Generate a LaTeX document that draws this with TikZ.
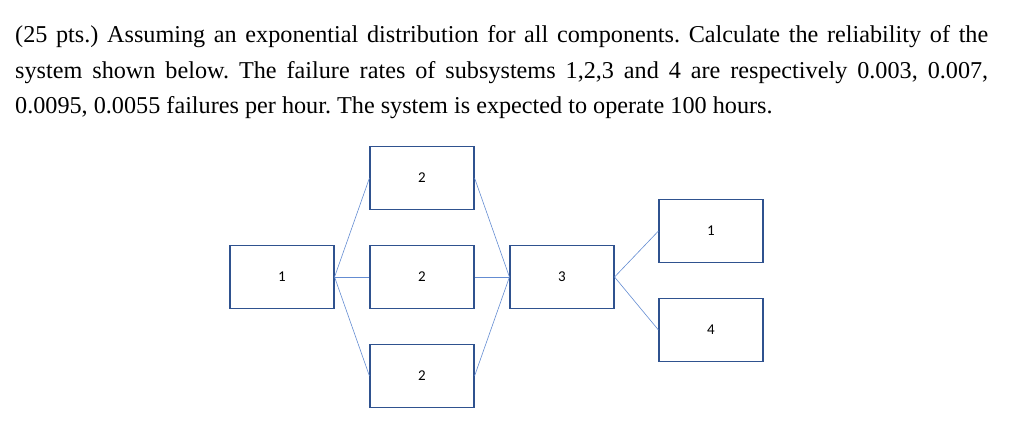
\documentclass[tikz,border=0pt]{standalone}
\usepackage{fontspec}
\setmainfont{Liberation Serif}
\newfontfamily\boxfont{Carlito}
\definecolor{boxc}{RGB}{47,82,143}
\definecolor{linec}{RGB}{100,140,210}
\frenchspacing
\begin{document}
\begin{tikzpicture}[x=1pt,y=-1pt,
  blk/.style={draw=boxc,line width=1.1pt,minimum width=104pt,minimum height=63pt,inner sep=0pt,font=\boxfont\fontsize{15}{17}\selectfont},
  con/.style={draw=linec,line width=0.6pt},
  txt/.style={anchor=west,inner sep=0pt,font=\fontsize{24.2}{28}\selectfont}]
\useasboundingbox (0,0) rectangle (1015,436);
\node[txt] (l1) at (15,37) {\hbox to 973pt{(25 pts.) Assuming an exponential distribution for all components. Calculate the reliability of the}};
\node[txt] (l2) at (15,73) {\hbox to 973pt{system shown below. The failure rates of subsystems 1,2,3 and 4 are respectively 0.003, 0.007,}};
\node[txt] (l3) at (15,108) {0.0095, 0.0055 failures per hour. The system is expected to operate 100 hours.};
\node[blk] (a) at (282,277) {1};
\node[blk] (b1) at (422,178) {2};
\node[blk] (b2) at (422,277) {2};
\node[blk] (b3) at (422,376) {2};
\node[blk] (c) at (562,277) {3};
\node[blk] (d1) at (711,231) {1};
\node[blk] (d2) at (711,330) {4};
\foreach \b in {b1,b2,b3}{
  \draw[con] (a.east) -- (\b.west);
  \draw[con] (\b.east) -- (c.west);}
\draw[con] (c.east) -- (d1.west);
\draw[con] (c.east) -- (d2.west);
\end{tikzpicture}
\end{document}
